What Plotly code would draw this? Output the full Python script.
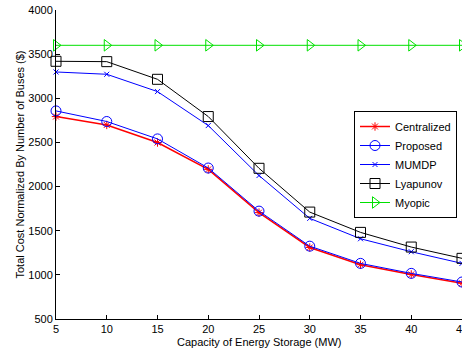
import plotly.graph_objects as go

capacity = [5, 10, 15, 20, 25, 30, 35, 40, 45]
centralized = [2793, 2698, 2499, 2195, 1705, 1310, 1115, 1005, 905]
proposed = [2857, 2737, 2540, 2210, 1722, 1325, 1130, 1017, 919]
mumdp = [3298, 3272, 3076, 2691, 2125, 1640, 1409, 1262, 1130]
lyapunov = [3419, 3415, 3215, 2793, 2207, 1711, 1481, 1315, 1187]
myopic = [3600, 3600, 3600, 3600, 3600, 3600, 3600, 3600, 3600]

x_ticks = [5, 10, 15, 20, 25, 30, 35, 40, 45]
y_ticks = [500, 1000, 1500, 2000, 2500, 3000, 3500, 4000]

FONT = "Liberation Sans, Arial, Helvetica, sans-serif"

series = [
    ("Centralized", centralized, "#ff0000", "asterisk-open", 7, 1.5),
    ("Proposed", proposed, "#0000ff", "circle-open", 10, 1),
    ("MUMDP", mumdp, "#0000ff", "x-thin-open", 5, 1),
    ("Lyapunov", lyapunov, "#000000", "square-open", 10, 1),
    ("Myopic", myopic, "#00e000", "triangle-right-open", 10, 1),
]

fig = go.Figure()
for name, vals, color, sym, size, lw in series:
    fig.add_trace(go.Scatter(
        x=capacity, y=vals, name=name, mode="lines+markers",
        line=dict(color=color, width=lw),
        marker=dict(symbol=sym, size=size, color=color,
                    line=dict(color=color, width=1)),
        cliponaxis=False,
    ))

axis_common = dict(
    showline=True, linecolor="black", linewidth=1,
    ticks="inside", ticklen=4, tickcolor="black",
    showgrid=False, zeroline=False, mirror=False,
    tickfont=dict(family=FONT, size=11, color="black"),
    automargin=False,
)

fig.update_layout(
    template="none",
    width=462, height=356,
    margin=dict(l=56, r=0, t=10, b=37),
    paper_bgcolor="white", plot_bgcolor="white",
    font=dict(family=FONT, size=11, color="black"),
    xaxis=dict(range=[5, 45], tickvals=x_ticks,
               ticklabeloverflow="allow",
               **axis_common),
    yaxis=dict(range=[500, 4000], tickvals=y_ticks,
               title=dict(text="Total Cost Normalized By Number of Buses ($)",
                          font=dict(family=FONT, size=11, color="black")),
               **axis_common),
    legend=dict(x=0.734, y=0.5, xanchor="left", yanchor="middle",
                bgcolor="white", bordercolor="black", borderwidth=1,
                font=dict(family=FONT, size=11, color="black")),
    showlegend=True,
    annotations=[dict(text="Capacity of Energy Storage (MW)",
                      xref="paper", yref="paper", x=0.5, y=-0.074,
                      xanchor="center", yanchor="middle", showarrow=False,
                      font=dict(family=FONT, size=11, color="black"))],
)

fig.write_html("out.html")
